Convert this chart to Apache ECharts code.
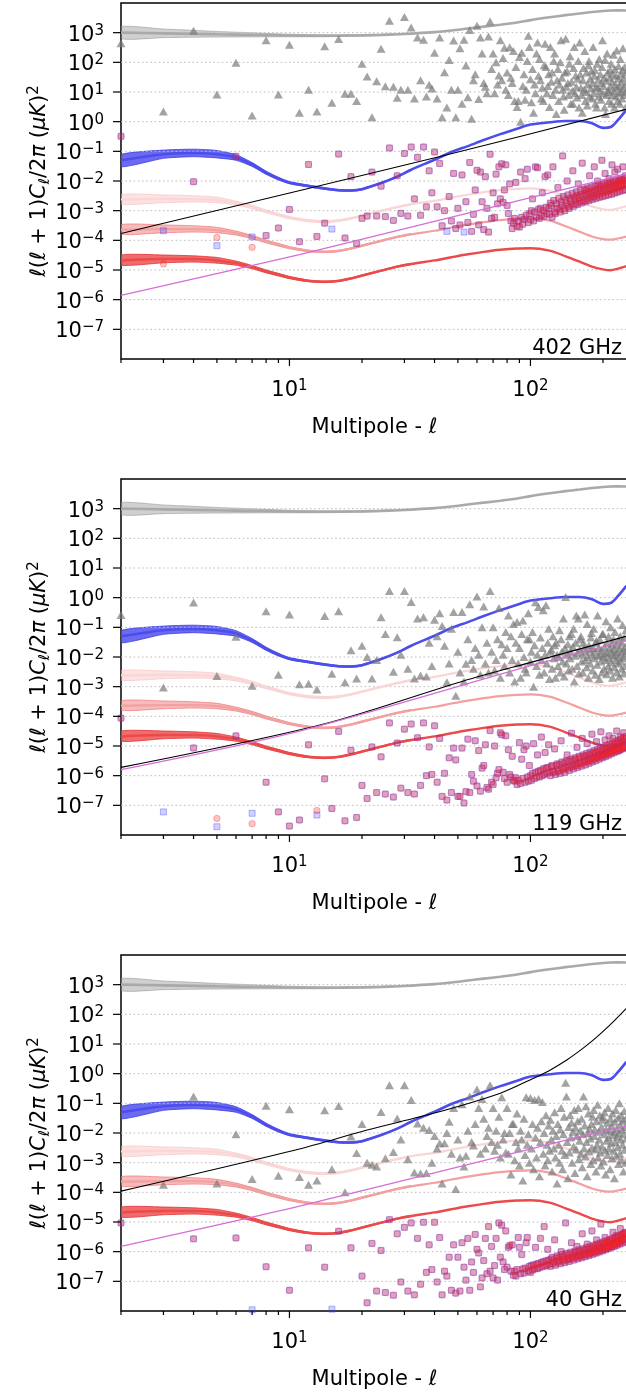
<!DOCTYPE html>
<html><head><meta charset="utf-8">
<script src="https://cdn.jsdelivr.net/npm/echarts@6/dist/echarts.min.js"></script>
<style>html,body{margin:0;padding:0;background:#fff}#c{width:626px;height:1394px}</style>
</head><body><div id="c"></div>
<script>
// ---------------- DATA ----------------
// multipole sample points for the theory curves
const LS = [2,3,4,5,6,7,8,9,10,12,14,16,18,20,24,28,32,40,47,55,64,75,88,100,120,140,160,180,200,215,230,250];
const TT = [1000,950,910,880,860,840,825,812,800,790,785,790,800,812,840,880,930,1040,1180,1380,1600,1850,2200,2650,3300,3900,4400,4950,5400,5600,5650,5550];
const EE = [0.05,0.08,0.088,0.08,0.062,0.036,0.019,0.012,0.0088,0.0068,0.0056,0.0049,0.0048,0.0053,0.0085,0.014,0.024,0.052,0.095,0.15,0.24,0.38,0.58,0.8,0.95,1.05,1.05,0.88,0.62,0.66,1.1,2.5];
const BB_HI_R = [2.4e-3,2.5e-3,2.45e-3,2.25e-3,1.8e-3,1.35e-3,9.5e-4,7.3e-4,5.8e-4,4.6e-4,4.3e-4,4.6e-4,5.5e-4,6.8e-4,9.8e-4,1.32e-3,1.65e-3,2.15e-3,2.75e-3,3.45e-3,4.2e-3,4.9e-3,5.4e-3,5.6e-3,4.7e-3,3.05e-3,2e-3,1.4e-3,1.12e-3,1.07e-3,1.18e-3,1.4e-3];
const BB_MID_R = [2.3e-4,2.4e-4,2.4e-4,2.2e-4,1.75e-4,1.3e-4,9.2e-5,7.1e-5,5.7e-5,4.4e-5,4.1e-5,4.4e-5,5.3e-5,6.6e-5,9.6e-5,1.3e-4,1.6e-4,2.1e-4,2.7e-4,3.4e-4,4.1e-4,4.8e-4,5.3e-4,5.5e-4,4.6e-4,3e-4,1.95e-4,1.35e-4,1.1e-4,1.05e-4,1.15e-4,1.35e-4];
const BB_LOW_R = [2.1e-5,2.35e-5,2.35e-5,2.1e-5,1.7e-5,1.25e-5,9e-6,7e-6,5.6e-6,4.3e-6,4e-6,4.3e-6,5.2e-6,6.5e-6,9.5e-6,1.3e-5,1.6e-5,2.1e-5,2.7e-5,3.4e-5,4.1e-5,4.8e-5,5.3e-5,5.4e-5,4.5e-5,2.9e-5,1.9e-5,1.3e-5,1.05e-5,9.8e-6,1.1e-5,1.35e-5];
// uncertainty bands at low multipoles
const BL = [2,3,4,5,6,7,8,9,10,12,14,16,18,20,24,28,32];
const TT_LO = [620,680,700,710,715,720,725,725,725,725,730,740,755,770,800,845,895];
const TT_HI = [1600,1330,1200,1100,1040,990,950,915,890,860,845,845,848,858,882,917,966];
const EE_LO = [0.03,0.058,0.066,0.06,0.05,0.031,0.0168,0.0108,0.0081,0.0063,0.0052,0.0046,0.0045,0.005,0.0081,0.0134,0.023];
const EE_HI = [0.078,0.11,0.118,0.107,0.077,0.042,0.0215,0.0134,0.0096,0.0073,0.006,0.0052,0.0051,0.0056,0.0089,0.0146,0.025];
const BBH_LO = [1.65e-3,1.85e-3,1.95e-3,1.85e-3,1.55e-3,1.17e-3,8.5e-4,6.6e-4,5.3e-4,4.2e-4,3.95e-4,4.3e-4,5.2e-4,6.4e-4,9.3e-4,1.26e-3,1.57e-3];
const BBH_HI = [3.5e-3,3.4e-3,3.2e-3,2.85e-3,2.1e-3,1.53e-3,1.06e-3,8.1e-4,6.4e-4,5e-4,4.65e-4,4.95e-4,5.85e-4,7.2e-4,1.03e-3,1.39e-3,1.74e-3];
const BBM_LO = [1.6e-4,1.8e-4,1.9e-4,1.8e-4,1.5e-4,1.13e-4,8.2e-5,6.4e-5,5.2e-5,4.1e-5,3.85e-5,4.15e-5,5e-5,6.2e-5,9.1e-5,1.24e-4,1.53e-4];
const BBM_HI = [3.4e-4,3.3e-4,3.1e-4,2.75e-4,2.05e-4,1.47e-4,1.03e-4,7.9e-5,6.2e-5,4.7e-5,4.35e-5,4.65e-5,5.6e-5,7e-5,1.01e-4,1.38e-4,1.7e-4];
const BBL_LO = [1.45e-5,1.75e-5,1.85e-5,1.7e-5,1.45e-5,1.1e-5,8e-6,6.3e-6,5.1e-6,4e-6,3.75e-6,4.05e-6,4.9e-6,6.1e-6,9e-6,1.23e-5,1.52e-5];
const BBL_HI = [3.2e-5,3.2e-5,3e-5,2.65e-5,2e-5,1.42e-5,1.01e-5,7.7e-6,6.1e-6,4.6e-6,4.25e-6,4.55e-6,5.5e-6,6.9e-6,1e-5,1.37e-5,1.68e-5];

// foreground / noise lines per frequency
const black402 = [[2,1.7e-4],[43,7e-2],[250,2.6]];
const mag402 = [[2,1.4e-6],[11,3.3e-5],[75,1.55e-3],[250,1.7e-2]];
const black119 = [[2,1.9e-6],[13.5,5.2e-5],[52,1.5e-3],[103,7e-3],[250,5e-2]];
const mag119 = [[2,1.6e-6],[11,3.2e-5],[103,5.4e-3],[250,3.5e-2]];
const black40 = [[2,1.1e-4],[11,2.9e-3],[21,1.26e-2],[40,4.7e-2],[75,0.22],[103,0.7],[119,1.24],[142,2.96],[163,6.6],[180,12.5],[195,22],[216,47.6],[250,160]];
const mag40 = [[2,1.5e-6],[11,3.4e-5],[142,5.9e-3],[250,1.7e-2]];

// TT residuals (grey triangles)
const tri402 = [[2,440],[3,2.2],[4,1170],[5,8.3],[6,96],[7,1.6],[8,560],[9,8.3],[10,390],[11,2],[12,12],[13,2.2],[14,350],[15,4.3],[16,610],[17,8.8],[18,8.8],[19,5],[20,89],[21,33],[22,1.4],[23,23],[24,285],[25,15.5],[26,2500],[27,15],[28,6.4],[29,12],[30,3400],[31,12],[32,1500],[33,6],[34,690],[35,25],[36,580],[37,7],[38,17.5],[39,13],[40,210],[41,6],[42,690],[43,1.4],[44,46],[45,3],[46,120],[47,12],[48,540],[49,1.4],[50,12],[51,300],[52,4],[53,580],[54,78],[55,6.7],[56,1230],[57,1.25],[58,25],[59,40],[60,1700],[61,5.8],[62,690],[63,200],[64,20],[65,15],[66,9],[67,740],[68,2400],[69,60],[70,200],[71,9],[72,100],[73,18],[74,36],[75,560],[76,25],[77,140],[78,310],[79,12],
[80,45],[81,8],[82,320],[83,30],[84,20],[85,240],[86,5],[87,70],[88,3.1],[89,5],[90,150],[91,1],[92,210],[93,16],[94,40],[95,5.5],[96,12],[97,110],[98,790],[99,330],[100,27],[101,4.5],[102,60],[103,2],[104,18],[105,9],[106,200],[107,470],[108,35],[109,130],[110,25],[111,6],[112,14],[113,5],[114,80],[115,420],[116,70],[117,9],[118,16],[119,40],[120,3.1],[121,330],[122,22],[123,45],[124,8],[125,110],[126,200],[127,12],[128,1.8],[129,25],[130,60],[131,5],[132,18],[133,100],[134,560],[135,30],[136,12],[137,7],[138,2.5],[139,45],[140,620],[141,15],[142,50],[143,20],[144,8],[145,90],[146,160],[147,4],[148,22],[149,11],[150,4],[151,65],[152,330],[153,9],[154,36],[155,15],[156,6.5],[157,28],[158,110],[159,3],[160,470],[161,40],[162,14],[163,8],[164,2],[165,25],[166,65],[167,12],[168,240],[169,5],[170,10],[171,45],[172,3.5],[173,18],[174,80],[175,110],[176,7],[177,28],[178,13],[179,50],[180,6],[181,20],[182,330],[183,9],[184,35],[185,55],[186,4],[187,15],[188,3],[189,90],[190,14],[191,26],[192,7],[193,130],[194,11],[195,40],[196,5.5],[197,20],[198,70],[199,560],[200,9],[201,16],[202,30],[203,3],[204,120],[205,1.8],[206,24],[207,8],[208,200],[209,45],[210,12],[211,10],[212,5],[213,30],[214,55],[215,15],[216,90],[217,4],[218,22],[219,8],[220,40],[221,180],[222,11],[223,3],[224,60],[225,18],[226,7],[227,35],[228,250],[229,14],[230,5],[231,28],[232,75],[233,9],[234,16],[235,4],[236,130],[237,40],[238,10],[239,22],[240,6],[241,55],[242,300],[243,13],[244,30],[245,8],[246,70],[247,18],[248,3],[249,45],[250,11]];
const tri119 = [[2,0.26],[3,9.3e-4],[4,0.69],[5,2.3e-3],[6,0.048],[7,1.07e-3],[8,0.35],[9,2.5e-3],[10,0.27],[11,1.2e-3],[12,1.25e-3],[13,8e-4],[14,0.24],[15,2.7e-3],[16,0.35],[17,1.4e-3],[18,0.017],[19,1.9e-3],[20,0.024],[21,0.01],[22,1.9e-3],[23,8e-3],[24,0.22],[25,0.06],[26,1.67],[27,3.2e-3],[28,0.046],[29,0.012],[30,1.67],[31,4e-3],[32,0.72],[33,1.9e-3],[34,0.2],[35,2.4e-3],[36,0.22],[37,2.2e-3],[38,0.03],[39,5e-3],[40,0.18],[41,0.05],[42,0.3],[43,0.11],[44,0.024],[45,1.4e-3],[46,6e-3],[47,0.09],[48,0.33],[49,4.9e-4],[50,0.015],[51,3e-3],[52,0.33],[53,1.5e-3],[54,5.9e-3],[55,0.04],[56,0.6],[57,8e-3],[58,4e-3],[59,0.02],[60,1.1],[61,0.012],[62,2.5e-3],[63,0.1],[64,0.5],[65,6e-3],[66,0.03],[67,3e-3],[68,1.67],[69,0.015],[70,0.1],[71,3.5e-3],[72,8e-3],[73,0.04],[74,0.45],[75,2e-3],[76,0.027],[77,0.012],[78,5e-3],[79,0.07],
[80,0.02],[81,0.25],[82,3e-3],[83,0.05],[84,8e-3],[85,0.13],[86,1.5e-3],[87,0.03],[88,0.15],[89,6e-3],[90,0.02],[91,2e-3],[92,0.06],[93,0.17],[94,0.01],[95,4e-3],[96,3e-3],[97,0.04],[98,0.3],[99,0.04],[100,7e-3],[101,0.015],[102,0.07],[103,1e-3],[104,0.025],[105,0.7],[106,5e-3],[107,0.012],[108,0.48],[109,2.5e-3],[110,0.045],[111,8e-3],[112,0.02],[113,0.38],[114,3e-3],[115,0.012],[116,0.55],[117,6e-3],[118,0.03],[119,0.09],[120,1.8e-3],[121,0.015],[122,0.018],[123,4e-3],[124,0.05],[125,9e-3],[126,0.025],[127,2e-3],[128,0.03],[129,0.012],[130,5e-3],[131,0.01],[132,0.08],[133,3e-3],[134,0.04],[135,0.015],[136,7e-3],[137,0.2],[138,2.2e-3],[139,0.02],[140,1.05],[141,6e-3],[142,0.012],[143,0.027],[144,3.5e-3],[145,0.05],[146,9e-3],[147,0.015],[148,0.06],[149,4e-3],[150,0.022],[151,0.09],[152,1.5e-3],[153,0.011],[154,0.03],[155,0.25],[156,5e-3],[157,0.014],[158,0.2],[159,2.8e-3],[160,0.018],[161,0.04],[162,0.05],[163,7e-3],[164,0.012],[165,3e-3],[166,0.03],[167,0.02],[168,0.27],[169,8e-3],[170,0.015],[171,4.5e-3],[172,0.13],[173,0.01],[174,2e-3],[175,0.025],[176,0.018],[177,6e-3],[178,0.045],[179,0.065],[180,0.012],[181,3.5e-3],[182,0.02],[183,0.09],[184,9e-3],[185,0.015],[186,2.5e-3],[187,0.03],[188,0.035],[189,5.5e-3],[190,0.25],[191,0.011],[192,0.02],[193,1.8e-3],[194,0.04],[195,0.012],[196,7e-3],[197,0.017],[198,3e-3],[199,0.06],[200,0.06],[201,0.01],[202,4e-3],[203,0.022],[204,0.014],[205,8e-3],[206,0.16],[207,2.6e-3],[208,0.03],[209,0.013],[210,5e-3],[211,0.05],[212,0.009],[213,0.02],[214,3.5e-3],[215,0.1],[216,0.015],[217,6.5e-3],[218,0.028],[219,2e-3],[220,0.011],[221,0.04],[222,0.018],[223,4.5e-3],[224,0.07],[225,0.012],[226,8e-3],[227,0.025],[228,3e-3],[229,0.015],[230,0.2],[231,6e-3],[232,0.035],[233,0.01],[234,2.2e-3],[235,0.02],[236,0.05],[237,7e-3],[238,0.014],[239,4e-3],[240,0.03],[241,0.12],[242,9e-3],[243,0.018],[244,2.8e-3],[245,0.045],[246,0.011],[247,5e-3],[248,0.022],[249,0.08],[250,0.016]];
const tri40 = [[3,1.8e-4],[4,0.17],[5,2e-4],[6,9e-3],[7,2.8e-4],[8,0.083],[9,3.6e-4],[10,0.063],[11,3.3e-4],[12,1.8e-4],[13,2.5e-4],[14,0.059],[15,6e-4],[16,0.081],[17,1e-4],[18,7.6e-3],[19,2.1e-3],[20,0.02],[21,1e-3],[22,8.5e-4],[23,7.4e-4],[24,0.051],[25,1.4e-3],[26,0.41],[27,2.3e-3],[28,0.031],[29,6e-3],[30,0.41],[31,1.3e-3],[32,0.13],[33,4.7e-4],[34,0.021],[35,4.3e-4],[36,0.015],[37,4.5e-4],[38,0.0126],[39,1e-3],[40,8e-3],[41,3e-3],[42,4.5e-3],[43,2e-4],[44,4.5e-3],[45,0.01],[46,0.024],[47,2e-3],[48,0.07],[49,1.3e-4],[50,6e-3],[51,1.5e-3],[52,0.093],[53,7.4e-4],[54,1.7e-3],[55,0.012],[56,0.17],[57,5e-3],[58,3.8e-3],[59,0.02],[60,0.29],[61,0.07],[62,2e-3],[63,0.14],[64,0.03],[65,3e-3],[66,8e-3],[67,0.015],[68,0.41],[69,5e-3],[70,0.07],[71,2.5e-3],[72,0.012],[73,4e-3],[74,0.035],[75,1.5e-3],[76,0.16],[77,6e-3],[78,0.01],[79,2.2e-3],
[80,0.07],[81,2e-3],[82,0.01],[83,4e-4],[84,0.02],[85,0.02],[86,1.2e-3],[87,5e-3],[88,0.045],[89,3e-3],[90,8e-4],[91,0.012],[92,6e-3],[93,2.5e-4],[94,0.03],[95,1.8e-3],[96,0.16],[97,4e-3],[98,0.009],[99,1e-3],[100,0.15],[101,3e-3],[102,0.02],[103,6e-4],[104,0.13],[105,7e-3],[106,1.5e-3],[107,0.015],[108,0.14],[109,3.5e-4],[110,5e-3],[111,0.025],[112,0.11],[113,2e-3],[114,0.01],[115,8e-4],[116,0.04],[117,4e-3],[118,1.2e-3],[119,0.018],[120,2.5e-3],[121,0.028],[122,6e-3],[123,5e-4],[124,0.012],[125,3e-3],[126,0.05],[127,1.5e-3],[128,8e-3],[129,2e-4],[130,0.02],[131,4e-3],[132,1e-3],[133,0.013],[134,0.07],[135,2.5e-3],[136,6e-4],[137,9e-3],[138,0.035],[139,1.8e-3],[140,0.49],[141,0.17],[142,5e-3],[143,3e-4],[144,0.016],[145,2.2e-3],[146,0.04],[147,7e-3],[148,0.022],[149,1e-3],[150,0.011],[151,3.5e-3],[152,0.06],[153,4.5e-4],[154,0.015],[155,2.8e-3],[156,8e-3],[157,0.025],[158,0.07],[159,1.3e-3],[160,5.5e-3],[161,0.012],[162,2e-3],[163,0.03],[164,7e-4],[165,9e-3],[166,0.17],[167,3e-3],[168,0.018],[169,1.6e-3],[170,0.08],[171,5e-3],[172,3.5e-4],[173,0.01],[174,0.045],[175,2.4e-3],[176,0.014],[177,6.5e-3],[178,9e-4],[179,0.02],[180,3.2e-3],[181,0.035],[182,1.2e-3],[183,0.06],[184,8e-3],[185,0.013],[186,2.8e-3],[187,5e-4],[188,0.025],[189,4e-3],[190,0.09],[191,1.5e-3],[192,0.011],[193,6e-3],[194,0.04],[195,2.2e-3],[196,8e-4],[197,0.016],[198,3.5e-3],[199,0.028],[200,0.035],[201,1.1e-3],[202,9e-3],[203,0.05],[204,2.6e-3],[205,4e-4],[206,0.013],[207,5.5e-3],[208,0.022],[209,1.8e-3],[210,0.07],[211,7e-3],[212,3e-3],[213,0.012],[214,6e-4],[215,0.03],[216,4.5e-3],[217,0.018],[218,1.4e-3],[219,0.045],[220,8.5e-3],[221,2.5e-3],[222,0.011],[223,3e-4],[224,0.024],[225,5e-3],[226,0.06],[227,1.7e-3],[228,0.014],[229,7.5e-3],[230,3.3e-3],[231,0.032],[232,9e-4],[233,0.01],[234,0.1],[235,2e-3],[236,0.019],[237,6e-3],[238,0.04],[239,1.2e-3],[240,0.013],[241,4e-3],[242,0.026],[243,5e-4],[244,0.009],[245,0.055],[246,2.7e-3],[247,0.016],[248,1e-3],[249,0.03],[250,6.5e-3]];

// EE / BB residuals: points where both coincide, plus points seen only in one of them
const res402 = [[2,0.32],[4,9.5e-3],[6,0.068],[8,1.45e-4],[9,2.6e-4],[10,1.1e-3],[11,9e-5],[12,0.036],[13,1.35e-4],[14,3.8e-4],[16,0.081],[17,1.2e-4],[18,0.014],[19,7.8e-5],[20,5.5e-4],[21,6.6e-4],[22,0.02],[23,6.6e-4],[24,6.7e-3],[25,6.3e-4],[26,0.13],[27,4.7e-4],[28,0.015],[29,8.1e-4],[30,0.085],[31,6.6e-4],[32,0.14],[33,2.5e-3],[34,0.063],[35,7e-4],[36,0.14],[37,1.35e-3],[38,0.022],[39,4e-3],[40,0.095],[41,1.35e-3],[42,0.039],[43,3.1e-4],[44,1e-3],[46,3e-3],[47,4.5e-4],[48,0.018],[49,2.5e-4],[50,1.2e-3],[51,3.3e-4],[52,0.016],[54,2e-3],[55,4e-4],[56,0.042],[57,2e-4],[58,7.5e-4],[59,5e-3],[60,0.023],[61,3.3e-4],[62,0.02],[63,2e-3],[64,2.3e-4],[65,0.014],[66,1.2e-3],[67,1.9e-4],[68,0.08],[69,5.5e-4],[70,4e-3],[71,6e-4],[72,0.017],[73,1.7e-3],[74,0.03],[75,2.5e-3],[76,0.038],[77,1.9e-3],[78,5e-3],[79,0.035],[80,1.5e-3],
[81,8e-4],[82,8e-3],[83,4.5e-4],[84,2.5e-4],[85,3.8e-4],[86,5.5e-4],[87,9e-3],[88,3e-4],[89,4.5e-4],[90,2.8e-4],[91,0.02],[92,6e-4],[93,3.5e-4],[94,5e-4],[95,0.012],[96,7e-4],[97,0.025],[98,4e-4],[99,8e-4],[100,5e-4],[101,1e-3],[102,2.5e-3],[103,4.5e-4],[104,9e-4],[105,0.03],[106,6e-4],[107,0.028],[108,1.1e-3],[109,5.5e-4],[110,1.2e-3],[111,7e-4],[112,4e-3],[113,1e-3],[114,6.5e-4],[115,0.014],[116,1.3e-3],[117,8e-4],[118,0.016],[119,1.2e-3],[120,7.5e-4],[122,1.5e-3],[124,0.03],[126,9e-4],[128,1.7e-3],[130,6e-3],[132,1.1e-3],[134,2e-3],[136,0.07],[138,1.2e-3],[140,2.3e-3],[142,0.01],[144,1.4e-3],[146,2.6e-3],[148,1.6e-3],[150,0.022],[152,2.9e-3],[154,1.7e-3],[156,3.2e-3],[158,8e-3],[160,2e-3],[162,3.5e-3],[164,0.04],[166,2.2e-3],[168,3.9e-3],[170,5e-3],[172,2.5e-3],[174,4.3e-3],[176,0.015],[178,2.8e-3],[180,4.7e-3],[182,3e-3],[184,0.03],[186,5.2e-3],[188,3.3e-3],[190,0.01],[192,5.6e-3],[194,3.6e-3],[196,6.2e-3],[198,0.05],[200,4e-3],[202,6.6e-3],[204,0.018],[206,4.3e-3],[208,7e-3],[210,4.6e-3],[212,0.012],[214,7.6e-3],[216,5e-3],[218,0.035],[220,8e-3],[222,5.4e-3],[224,0.02],[226,8.6e-3],[228,5.8e-3],[230,0.025],[232,9e-3],[234,6.2e-3],[236,0.011],[238,6.6e-3],[240,9.8e-3],[242,0.03],[244,7e-3],[246,0.0105],[248,0.015],[250,7.5e-3]];
const odd402 = [[121,1.8e-3],[123,6e-4],[125,2.2e-3],[127,8e-4],[129,1.2e-3],[131,2.6e-3],[133,9e-4],[135,1.5e-3],[137,3e-3],[139,1e-3],[141,1.8e-3],[143,3.4e-3],[145,1.2e-3],[147,2.1e-3],[149,3.8e-3],[151,1.4e-3],[153,2.4e-3],[155,4.3e-3],[157,1.6e-3],[159,2.7e-3],[161,4.8e-3],[163,1.8e-3],[165,3e-3],[167,5.3e-3],[169,2e-3],[171,3.3e-3],[173,5.8e-3],[175,2.2e-3],[177,3.6e-3],[179,6.3e-3],[181,2.4e-3],[183,4e-3],[185,6.8e-3],[187,2.6e-3],[189,4.3e-3],[191,7.4e-3],[193,2.8e-3],[195,4.7e-3],[197,8e-3],[199,3e-3],[201,5e-3],[203,8.6e-3],[205,3.2e-3],[207,5.4e-3],[209,9.2e-3],[211,3.4e-3],[213,5.8e-3],[215,9.8e-3],[217,3.6e-3],[219,6.2e-3],[221,0.0105],[223,3.9e-3],[225,6.6e-3],[227,0.011],[229,4.2e-3],[231,7e-3],[233,0.0118],[235,4.5e-3],[237,7.5e-3],[239,0.0125],[241,4.8e-3],[243,8e-3],[245,0.013],[247,5.1e-3],[249,8.5e-3]];
const ee402 = [[3,2.1e-4],[5,6.6e-5],[7,1.3e-4],[15,2.4e-4],[45,2e-4],[53,1.9e-4]];
const bb402 = [[3,1.6e-5],[5,1.25e-4],[7,5.8e-5]];
const res119 = [[2,8.7e-5],[4,8.6e-6],[6,2.2e-5],[8,6e-7],[9,6e-8],[10,2e-8],[11,3.2e-8],[12,1.1e-5],[14,7.8e-7],[15,7.8e-8],[16,3.1e-5],[17,3e-8],[18,7.2e-6],[19,3.9e-8],[20,4.7e-7],[21,1.7e-7],[22,9.3e-6],[23,2.7e-7],[24,4.3e-6],[25,2.4e-7],[26,6e-5],[27,1.9e-7],[28,1.26e-5],[29,3.8e-7],[30,3.7e-5],[31,2.7e-7],[32,5.5e-5],[33,2.4e-7],[34,1.9e-5],[35,4.7e-7],[36,6e-5],[37,1e-6],[38,9.3e-6],[39,1.1e-6],[40,4.8e-5],[41,6e-7],[42,1.8e-5],[43,2e-7],[44,1.2e-6],[45,1.5e-7],[46,4e-6],[47,2.7e-7],[48,8.5e-6],[49,3.4e-6],[50,2e-7],[51,2e-7],[52,8.5e-6],[53,1.2e-7],[54,2.9e-7],[55,1.7e-5],[56,2.7e-7],[57,1.1e-6],[58,6.5e-7],[59,1.5e-5],[60,4.5e-7],[61,7e-6],[62,3e-7],[63,1.8e-6],[64,2.2e-6],[65,1.1e-5],[66,4e-7],[67,3.5e-7],[68,3.3e-5],[69,6e-7],[70,5e-7],[71,1e-5],[72,8.5e-7],[73,1.2e-6],[74,1.6e-6],[75,2.8e-5],[76,2.4e-5],[77,1.3e-6],[78,8e-7],[79,2.2e-5],[80,6e-7],[81,7.5e-6],[82,1.1e-6],[83,9e-7],[84,4.5e-6],[85,7e-7],
[86,6.5e-7],[87,8.5e-7],[88,5e-7],[89,7e-7],[90,1.3e-5],[91,5.5e-7],[92,3.6e-6],[93,8e-7],[94,7.5e-6],[95,6e-7],[96,1e-5],[97,9e-7],[98,6.5e-7],[99,2.2e-6],[100,1e-6],[101,7e-7],[102,1.2e-6],[103,1.2e-5],[104,8e-7],[105,1.3e-6],[106,9e-7],[107,5e-6],[108,1.4e-6],[109,9e-7],[110,1.5e-6],[111,2e-5],[112,1e-6],[113,1.7e-6],[114,1.1e-6],[115,6e-6],[116,1.8e-6],[117,1.2e-6],[118,1.9e-6],[119,1.1e-5],[120,1.3e-6],[122,2e-6],[124,1.4e-6],[126,8e-6],[128,2.2e-6],[130,1.5e-6],[132,2.4e-6],[134,1.5e-5],[136,1.7e-6],[138,2.7e-6],[140,1.9e-6],[142,5e-6],[144,3e-6],[146,2.1e-6],[148,2.7e-5],[150,3.2e-6],[152,2.3e-6],[154,3.6e-6],[156,9e-6],[158,2.6e-6],[160,4e-6],[162,2.8e-6],[164,1.8e-5],[166,4.3e-6],[168,3.1e-6],[170,4.7e-6],[172,1.2e-5],[174,3.4e-6],[176,5.1e-6],[178,3.7e-6],[180,2.5e-5],[182,5.6e-6],[184,4e-6],[186,6.1e-6],[188,1.4e-5],[190,4.4e-6],[192,6.6e-6],[194,4.8e-6],[196,3e-5],[198,7.2e-6],[200,5.2e-6],[202,7.8e-6],[204,1.6e-5],[206,5.7e-6],[208,8.5e-6],[210,6.2e-6],[212,2.2e-5],[214,9.2e-6],[216,6.8e-6],[218,1e-5],[220,1.8e-5],[222,7.5e-6],[224,1.1e-5],[226,8.2e-6],[228,3.2e-5],[230,1.2e-5],[232,7e-6],[234,1.3e-5],[236,2e-5],[238,8e-6],[240,1.45e-5],[242,9e-6],[244,2.8e-5],[246,1.6e-5],[248,1e-5],[250,1.8e-5]];
const odd119 = [[121,1e-6],[123,2.2e-6],[125,1.3e-6],[127,1.1e-6],[129,2.5e-6],[131,1.4e-6],[133,1.2e-6],[135,2.9e-6],[137,1.6e-6],[139,1.3e-6],[141,3.2e-6],[143,1.8e-6],[145,1.5e-6],[147,3.6e-6],[149,2e-6],[151,1.7e-6],[153,4e-6],[155,2.2e-6],[157,1.9e-6],[159,4.5e-6],[161,2.5e-6],[163,2.1e-6],[165,5e-6],[167,2.8e-6],[169,2.3e-6],[171,5.6e-6],[173,3.1e-6],[175,2.6e-6],[177,6.2e-6],[179,3.4e-6],[181,2.9e-6],[183,6.9e-6],[185,3.8e-6],[187,3.2e-6],[189,7.6e-6],[191,4.2e-6],[193,3.6e-6],[195,8.4e-6],[197,4.6e-6],[199,4e-6],[201,9.3e-6],[203,5.1e-6],[205,4.4e-6],[207,1.03e-5],[209,5.6e-6],[211,4.9e-6],[213,1.14e-5],[215,6.2e-6],[217,5.4e-6],[219,1.26e-5],[221,6.8e-6],[223,6e-6],[225,1.4e-5],[227,7.5e-6],[229,6.6e-6],[231,1.55e-5],[233,8.3e-6],[235,7.3e-6],[237,1.7e-5],[239,9.2e-6],[241,8e-6],[243,1.9e-5],[245,1e-5],[247,8.8e-6],[249,2.1e-5]];
const ee119 = [[3,6e-8],[5,1.9e-8],[7,5.4e-8],[13,4.7e-8]];
const bb119 = [[5,3.6e-8],[7,2.4e-8],[13,6.7e-8]];
const res40 = [[2,9.3e-6],[4,2.7e-6],[6,2.9e-6],[8,3.1e-7],[10,5e-8],[12,1.35e-6],[14,3e-7],[16,4.9e-6],[18,1.35e-6],[20,1.5e-7],[21,1.9e-8],[22,1.9e-6],[23,4.7e-8],[24,1.1e-6],[25,4.2e-8],[26,1.2e-5],[27,3.4e-8],[28,4e-6],[29,9.5e-8],[30,6.6e-6],[31,4.7e-8],[32,9.3e-6],[33,3.5e-8],[34,2.8e-6],[35,8e-8],[36,9.8e-6],[37,2e-7],[38,1.7e-6],[39,2.5e-7],[40,9.8e-6],[41,9.5e-8],[42,3e-6],[43,3.5e-8],[44,2.2e-7],[45,1.5e-7],[46,6.5e-7],[47,5e-8],[48,1.7e-6],[49,4e-8],[50,6.5e-7],[51,4.7e-8],[52,2e-6],[53,3e-7],[54,1.1e-7],[55,2.8e-6],[56,5e-8],[57,4.5e-7],[58,2e-7],[59,3.8e-6],[60,1.2e-6],[61,9e-7],[62,6.5e-8],[63,1.3e-7],[64,5e-7],[65,2.8e-6],[66,1.8e-7],[67,7e-6],[68,2.2e-7],[69,1.5e-6],[70,1.3e-7],[71,3.4e-7],[72,2.8e-6],[73,1.1e-7],[74,9.3e-6],[75,6.5e-7],[76,7.8e-6],[77,4.5e-7],[78,2.5e-7],[79,5e-6],[80,3e-7],[81,1.4e-6],
[82,1.6e-6],[83,2.2e-7],[84,1.7e-6],[85,1.6e-7],[86,2.2e-7],[87,1.5e-7],[88,2.5e-7],[89,3e-6],[90,1.4e-6],[91,1.8e-7],[92,8e-7],[93,2.6e-7],[94,1.9e-7],[95,2.8e-7],[96,2e-6],[97,3e-6],[98,2.2e-7],[99,3.2e-7],[100,2e-7],[101,3.4e-7],[102,2.4e-7],[103,3.6e-7],[104,2.6e-7],[105,1.4e-6],[106,3.8e-7],[107,2.7e-7],[108,4e-7],[109,2.9e-7],[110,2.8e-6],[111,4.3e-7],[112,3.1e-7],[113,4.6e-7],[114,7e-6],[115,3.3e-7],[116,4.9e-7],[117,3.5e-7],[118,1.2e-6],[119,5.2e-7],[120,3.8e-7],[122,5.6e-7],[124,4e-7],[126,2.5e-6],[128,6e-7],[130,4.4e-7],[132,6.5e-7],[134,1e-6],[136,4.8e-7],[138,7.2e-7],[140,9.3e-6],[142,5.3e-7],[144,8e-7],[146,5.7e-7],[148,2e-6],[150,8.7e-7],[152,6.2e-7],[154,9.4e-7],[156,1.5e-6],[158,6.7e-7],[160,1e-6],[162,7.2e-7],[164,4e-6],[166,1.1e-6],[168,7.8e-7],[170,1.15e-6],[172,1.8e-6],[174,8.4e-7],[176,1.25e-6],[178,9e-7],[180,5e-6],[182,1.35e-6],[184,9.6e-7],[186,1.45e-6],[188,2.5e-6],[190,1.05e-6],[192,1.6e-6],[194,1.12e-6],[196,8.5e-6],[198,1.75e-6],[200,1.2e-6],[202,1.9e-6],[204,3e-6],[206,1.3e-6],[208,2.05e-6],[210,1.4e-6],[212,2.2e-6],[214,1.5e-6],[216,2.4e-6],[218,1.6e-6],[220,4.5e-6],[222,1.7e-6],[224,2.7e-6],[226,1.85e-6],[228,3.5e-6],[230,2e-6],[232,3.1e-6],[234,2.2e-6],[236,6e-6],[238,2.4e-6],[240,3.6e-6],[242,2.6e-6],[244,4.2e-6],[246,2.8e-6],[248,4.5e-6],[250,3.2e-6]];
const odd40 = [[121,3.2e-7],[123,6.5e-7],[125,4.6e-7],[127,3.5e-7],[129,7.2e-7],[131,5e-7],[133,3.9e-7],[135,8e-7],[137,5.5e-7],[139,4.3e-7],[141,8.8e-7],[143,6e-7],[145,4.7e-7],[147,9.6e-7],[149,6.6e-7],[151,5.2e-7],[153,1.05e-6],[155,7.2e-7],[157,5.7e-7],[159,1.15e-6],[161,7.9e-7],[163,6.2e-7],[165,1.25e-6],[167,8.6e-7],[169,6.8e-7],[171,1.37e-6],[173,9.4e-7],[175,7.4e-7],[177,1.5e-6],[179,1.03e-6],[181,8.1e-7],[183,1.64e-6],[185,1.12e-6],[187,8.9e-7],[189,1.8e-6],[191,1.22e-6],[193,9.7e-7],[195,1.97e-6],[197,1.33e-6],[199,1.06e-6],[201,2.15e-6],[203,1.45e-6],[205,1.16e-6],[207,2.35e-6],[209,1.6e-6],[211,1.27e-6],[213,2.55e-6],[215,1.75e-6],[217,1.4e-6],[219,2.8e-6],[221,1.9e-6],[223,1.5e-6],[225,3.05e-6],[227,2.05e-6],[229,1.65e-6],[231,3.3e-6],[233,2.25e-6],[235,1.8e-6],[237,3.6e-6],[239,2.45e-6],[241,1.95e-6],[243,3.9e-6],[245,2.7e-6],[247,2.15e-6],[249,4.2e-6]];
const ee40 = [[7,1.1e-8],[15,1.15e-8]];
const bb40 = [];

// axis ticks
const Y_DECADES = [1e-7,1e-6,1e-5,1e-4,1e-3,1e-2,1e-1,1,10,100,1000];
const X_MAJOR = [10,100];
const X_MINOR = [2,3,4,5,6,7,8,9,20,30,40,50,60,70,80,90,200];
const FREQS = ['402 GHz','119 GHz','40 GHz'];

// ---------------- CHART ----------------
const FONT = 'DejaVu Sans';
const PANELS = [
  {tri:tri402, res:res402.concat(odd402), ee:ee402, bb:bb402, black:black402, mag:mag402},
  {tri:tri119, res:res119.concat(odd119), ee:ee119, bb:bb119, black:black119, mag:mag119},
  {tri:tri40,  res:res40.concat(odd40),   ee:ee40,  bb:bb40,  black:black40,  mag:mag40}
];
const TOPS = [3, 479, 955];
const H = 356, LEFT = 121, W = 507;
const XMIN = 2, XMAX = 254, YMIN = 1e-8, YMAX = 1e4;
const pairs = (ls, vs) => ls.map((l, k) => [l, vs[k]]);

function supLabel(v, lo, hi) {
  const lg = Math.log10(v), e = Math.round(lg);
  if (Math.abs(lg - e) > 1e-6 || e < lo || e > hi) return '';
  return '{b|10}{s|' + (e < 0 ? '\u2212' + (-e) : e) + '}';
}
const richNum = {
  b: {fontSize: 21, fontFamily: FONT, color: '#000', lineHeight: 24},
  s: {fontSize: 15, fontFamily: FONT, color: '#000', verticalAlign: 'top', lineHeight: 15}
};

const grid = [], xAxis = [], yAxis = [], series = [], graphic = [];
PANELS.forEach((P, i) => {
  grid.push({left: LEFT, top: TOPS[i], width: W, height: H, show: true, borderColor: '#000', borderWidth: 1.5,
             backgroundColor: 'transparent', containLabel: false, outerBoundsMode: 'none'});
  xAxis.push({type: 'log', logBase: 10, gridIndex: i, min: XMIN, max: XMAX,
    axisLine: {show: false}, axisTick: {show: false}, splitLine: {show: false}, minorTick: {show: false},
    axisLabel: {show: true, margin: 20, formatter: v => supLabel(v, -20, 20), rich: richNum, hideOverlap: false},
    name: 'Multipole - {i|\u2113}', nameLocation: 'middle', nameGap: 58, nameMoveOverlap: false,
    nameTextStyle: {fontSize: 21, fontFamily: FONT, color: '#000', rich: {i: {fontSize: 21, fontStyle: 'italic', fontFamily: FONT, color: '#000'}}}
  });
  yAxis.push({type: 'log', logBase: 10, gridIndex: i, min: YMIN, max: YMAX, interval: 1,
    axisLine: {show: false}, axisTick: {show: false}, splitLine: {show: false}, minorTick: {show: false},
    axisLabel: {show: true, margin: 17, padding: [5, 0, 0, 0], formatter: v => supLabel(v, -7, 3), rich: richNum, hideOverlap: false},
    name: '{i|\u2113}({i|\u2113} + 1){i|C}{sub|\u2113}/2{i|\u03c0} ({i|\u03bcK}){sup|2}',
    nameLocation: 'middle', nameRotate: 90, nameGap: 68, nameMoveOverlap: false,
    nameTextStyle: {fontSize: 21, fontFamily: FONT, color: '#000', lineHeight: 26, rich: {
      i: {fontSize: 21, fontStyle: 'italic', fontFamily: FONT, color: '#000', lineHeight: 26},
      sub: {fontSize: 15, fontStyle: 'italic', fontFamily: FONT, color: '#000', verticalAlign: 'bottom', lineHeight: 15},
      sup: {fontSize: 15, fontFamily: FONT, color: '#000', verticalAlign: 'top', lineHeight: 15}}}
  });
  const ax = {xAxisIndex: i, yAxisIndex: i, animation: false, silent: true};
  const band = (ls, lo, hi, fill, stroke, z) => Object.assign({type: 'custom', z, clip: true, data: [[10, 1]],
    renderItem: (params, api) => {
      const up = ls.map((l, k) => api.coord([l, hi[k]]));
      const dn = ls.map((l, k) => api.coord([l, lo[k]])).reverse();
      return {type: 'polygon', shape: {points: up.concat(dn), smooth: 0.2}, style: {fill, stroke, lineWidth: 1}};
    }}, ax);
  const line = (data, color, width, z) => Object.assign({type: 'line', data, showSymbol: false, symbol: 'none',
    smooth: 0.3, lineStyle: {color, width}, z, clip: true}, ax);

  // bands (below grid)
  series.push(band(BL, TT_LO, TT_HI, 'rgba(150,150,150,0.45)', 'rgba(140,140,140,0.5)', 1));
  series.push(band(BL, EE_LO, EE_HI, 'rgba(70,70,235,0.8)', 'rgba(60,60,230,0.8)', 1));
  series.push(band(BL, BBH_LO, BBH_HI, 'rgba(248,190,190,0.45)', 'rgba(245,180,180,0.5)', 1));
  series.push(band(BL, BBM_LO, BBM_HI, 'rgba(240,120,120,0.5)', 'rgba(235,100,100,0.6)', 1));
  series.push(band(BL, BBL_LO, BBL_HI, 'rgba(235,60,60,0.75)', 'rgba(225,50,50,0.8)', 1));
  // dotted horizontal grid
  series.push(Object.assign({type: 'custom', z: 2, clip: true, data: Y_DECADES.map(v => [XMIN, v]),
    renderItem: (params, api) => {
      const a = api.coord([XMIN, api.value(1)]), b = api.coord([XMAX, api.value(1)]);
      return {type: 'line', shape: {x1: a[0], y1: a[1], x2: b[0], y2: b[1]},
              style: {stroke: '#bdbdbd', lineWidth: 1, lineDash: [1.6, 2.6]}};
    }}, ax));
  // theory curves
  series.push(line(pairs(LS, TT), '#a9a9a9', 2.6, 3));
  series.push(line(pairs(LS, BB_HI_R), '#fad6d6', 2.2, 3));
  series.push(line(pairs(LS, BB_MID_R), '#f2a0a0', 2.2, 3));
  series.push(line(pairs(LS, BB_LOW_R), '#ec4a4a', 2.4, 3));
  series.push(line(pairs(LS, EE), '#4d4dee', 2.6, 3));
  // residual markers: grey TT triangles, blue EE squares, red BB circles on top
  series.push(Object.assign({type: 'scatter', data: P.tri, symbol: 'triangle', symbolSize: [9, 8], z: 4,
    itemStyle: {color: 'rgba(120,120,120,0.85)'}}, ax));
  series.push(Object.assign({type: 'scatter', data: P.res.concat(P.ee), symbol: 'rect', symbolSize: 6, z: 4,
    itemStyle: {color: 'rgba(60,60,255,0.3)', borderColor: 'rgba(60,60,255,0.45)', borderWidth: 1}}, ax));
  series.push(Object.assign({type: 'scatter', data: P.res.concat(P.bb), symbol: 'circle', symbolSize: 6.5, z: 4,
    itemStyle: {color: 'rgba(255,40,40,0.35)', borderColor: 'rgba(230,30,30,0.35)', borderWidth: 1}}, ax));
  // foreground lines
  series.push(line(P.black, '#000', 1.1, 5));
  series.push(line(P.mag, '#d56ed6', 1.3, 5));
  // ticks
  series.push(Object.assign({type: 'custom', z: 6, clip: false,
    data: X_MAJOR.map(v => [v, YMIN, 7]).concat(X_MINOR.map(v => [v, YMIN, 4])),
    renderItem: (params, api) => {
      const p = api.coord([api.value(0), YMIN]);
      return {type: 'line', shape: {x1: p[0], y1: p[1], x2: p[0], y2: p[1] + api.value(2)},
              style: {stroke: '#000', lineWidth: 1.2}};
    }}, ax));
  series.push(Object.assign({type: 'custom', z: 6, clip: false, data: Y_DECADES.map(v => [XMIN, v]),
    renderItem: (params, api) => {
      const p = api.coord([XMIN, api.value(1)]);
      return {type: 'line', shape: {x1: p[0] - 8, y1: p[1], x2: p[0], y2: p[1]},
              style: {stroke: '#000', lineWidth: 1.2}};
    }}, ax));
  graphic.push({type: 'text', right: 4, top: TOPS[i] + 335, z: 100, silent: true,
    style: {text: FREQS[i], font: '21px "' + FONT + '"', fill: '#000'}});
});

const chart = echarts.init(document.getElementById('c'), null, {renderer: 'canvas', width: 626, height: 1394});
chart.setOption({
  animation: false, backgroundColor: '#fff',
  textStyle: {fontFamily: FONT},
  grid, xAxis, yAxis, series, graphic
});
</script></body></html>
